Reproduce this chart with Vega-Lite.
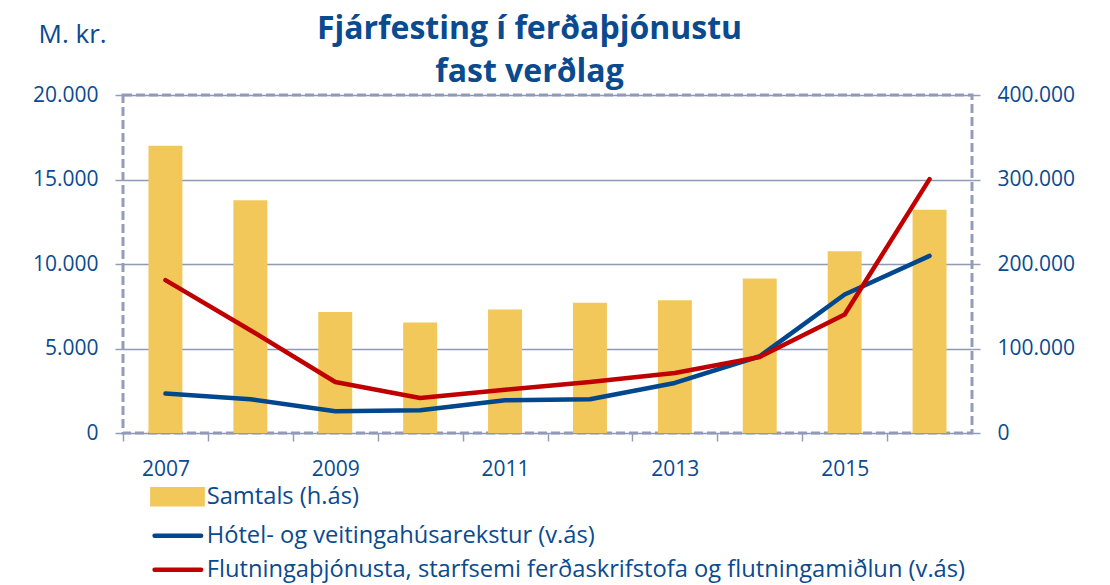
{
  "$schema": "https://vega.github.io/schema/vega-lite/v6.json",
  "width": 849,
  "height": 338,
  "autosize": {"type": "none"},
  "padding": {"left": 123, "top": 95, "right": 138, "bottom": 152},
  "background": "white",
  "title": {
    "text": ["Fjárfesting í ferðaþjónustu", "fast verðlag"],
    "font": "Liberation Sans Narrow, Open Sans, sans-serif",
    "fontSize": 32,
    "fontWeight": "bold",
    "color": "#0A4A8F",
    "anchor": "middle",
    "frame": "group",
    "dx": -18,
    "dy": 80,
    "lineHeight": 43,
    "offset": 12
  },
  "data": {
    "values": [
      {"year": "2007", "series": "Samtals (h.ás)", "value": 340000},
      {"year": "2008", "series": "Samtals (h.ás)", "value": 275300},
      {"year": "2009", "series": "Samtals (h.ás)", "value": 143300},
      {"year": "2010", "series": "Samtals (h.ás)", "value": 130800},
      {"year": "2011", "series": "Samtals (h.ás)", "value": 146200},
      {"year": "2012", "series": "Samtals (h.ás)", "value": 154000},
      {"year": "2013", "series": "Samtals (h.ás)", "value": 157200},
      {"year": "2014", "series": "Samtals (h.ás)", "value": 182900},
      {"year": "2015", "series": "Samtals (h.ás)", "value": 215200},
      {"year": "2016", "series": "Samtals (h.ás)", "value": 264100},
      {"year": "2007", "series": "Hótel- og veitingahúsarekstur (v.ás)", "value": 2333},
      {"year": "2008", "series": "Hótel- og veitingahúsarekstur (v.ás)", "value": 2000},
      {"year": "2009", "series": "Hótel- og veitingahúsarekstur (v.ás)", "value": 1285},
      {"year": "2010", "series": "Hótel- og veitingahúsarekstur (v.ás)", "value": 1344},
      {"year": "2011", "series": "Hótel- og veitingahúsarekstur (v.ás)", "value": 1937},
      {"year": "2012", "series": "Hótel- og veitingahúsarekstur (v.ás)", "value": 1996},
      {"year": "2013", "series": "Hótel- og veitingahúsarekstur (v.ás)", "value": 2961},
      {"year": "2014", "series": "Hótel- og veitingahúsarekstur (v.ás)", "value": 4542},
      {"year": "2015", "series": "Hótel- og veitingahúsarekstur (v.ás)", "value": 8197},
      {"year": "2016", "series": "Hótel- og veitingahúsarekstur (v.ás)", "value": 10483},
      {"year": "2007", "series": "Flutningaþjónusta, starfsemi ferðaskrifstofa og flutningamiðlun (v.ás)", "value": 9043},
      {"year": "2008", "series": "Flutningaþjónusta, starfsemi ferðaskrifstofa og flutningamiðlun (v.ás)", "value": 6082},
      {"year": "2009", "series": "Flutningaþjónusta, starfsemi ferðaskrifstofa og flutningamiðlun (v.ás)", "value": 3020},
      {"year": "2010", "series": "Flutningaþjónusta, starfsemi ferðaskrifstofa og flutningamiðlun (v.ás)", "value": 2073},
      {"year": "2011", "series": "Flutningaþjónusta, starfsemi ferðaskrifstofa og flutningamiðlun (v.ás)", "value": 2560},
      {"year": "2012", "series": "Flutningaþjónusta, starfsemi ferðaskrifstofa og flutningamiðlun (v.ás)", "value": 3020},
      {"year": "2013", "series": "Flutningaþjónusta, starfsemi ferðaskrifstofa og flutningamiðlun (v.ás)", "value": 3553},
      {"year": "2014", "series": "Flutningaþjónusta, starfsemi ferðaskrifstofa og flutningamiðlun (v.ás)", "value": 4501},
      {"year": "2015", "series": "Flutningaþjónusta, starfsemi ferðaskrifstofa og flutningamiðlun (v.ás)", "value": 7012},
      {"year": "2016", "series": "Flutningaþjónusta, starfsemi ferðaskrifstofa og flutningamiðlun (v.ás)", "value": 15025}
    ]
  },
  "encoding": {
    "x": {
      "field": "year",
      "type": "ordinal",
      "scale": {"paddingInner": 0.6, "paddingOuter": 0.3},
      "axis": {
        "title": null,
        "domain": false,
        "tickOffset": -42.45,
        "labelOffset": 42.45,
        "tickSize": 8,
        "tickColor": "#959CB9",
        "tickWidth": 1.5,
        "labelAngle": 0,
        "labelExpr": "(+datum.value) % 2 === 1 ? datum.value : ''",
        "labelFont": "Open Sans",
        "labelFontSize": 21,
        "labelColor": "#0A4A8F",
        "labelPadding": 17,
        "labelBaseline": "top",
        "grid": false
      }
    }
  },
  "layer": [
    {
      "transform": [{"filter": "datum.series === 'Samtals (h.ás)'"}],
      "mark": {"type": "bar"},
      "encoding": {
        "y": {
          "field": "value",
          "type": "quantitative",
          "scale": {"domain": [0, 400000], "nice": false},
          "axis": {
            "orient": "right",
            "title": null,
            "values": [0, 100000, 200000, 300000, 400000],
            "format": ",.0f",
            "grid": false,
            "domain": false,
            "tickSize": 8,
            "tickColor": "#959CB9",
            "tickWidth": 1.5,
            "labelFont": "Open Sans",
            "labelFontSize": 21,
            "labelColor": "#0A4A8F",
            "labelPadding": 17
          }
        },
        "color": {
          "field": "series",
          "type": "nominal",
          "scale": {
            "domain": ["Samtals (h.ás)", "Hótel- og veitingahúsarekstur (v.ás)", "Flutningaþjónusta, starfsemi ferðaskrifstofa og flutningamiðlun (v.ás)"],
            "range": ["#F2C85B", "#00478E", "#C00000"]
          },
          "legend": {
            "title": null,
            "orient": "none",
            "legendX": 25,
            "legendY": 390,
            "direction": "vertical",
            "columns": 1,
            "symbolSize": 225,
            "labelOffset": 35,
            "labelFont": "Open Sans",
            "labelFontSize": 23.7,
            "labelColor": "#0A4A8F",
            "labelLimit": 1000,
            "rowPadding": 9,
            "encode": {
              "symbols": {
                "update": {
                  "shape": {"signal": "datum.value === 'Samtals (h.ás)' ? 'M-1,-1H5.7V1H-1Z' : 'M-0.7,0H5.5'"},
                  "fill": {"signal": "datum.value === 'Samtals (h.ás)' ? '#F2C85B' : 'transparent'"},
                  "stroke": {"signal": "datum.value === 'Samtals (h.ás)' ? 'transparent' : (datum.value === 'Hótel- og veitingahúsarekstur (v.ás)' ? '#00478E' : '#C00000')"},
                  "strokeWidth": {"value": 4.5},
                  "strokeCap": {"value": "round"},
                  "opacity": {"value": 1}
                }
              }
            }
          }
        }
      }
    },
    {
      "transform": [{"filter": "datum.series !== 'Samtals (h.ás)'"}],
      "mark": {"type": "line", "strokeWidth": 4.5, "strokeCap": "round", "strokeJoin": "round"},
      "encoding": {
        "y": {
          "field": "value",
          "type": "quantitative",
          "scale": {"domain": [0, 20000], "nice": false},
          "axis": {
            "orient": "left",
            "title": "M. kr.",
            "titleAngle": 0,
            "titleAlign": "left",
            "titleBaseline": "alphabetic",
            "titleX": -85,
            "titleY": -53,
            "titleFont": "Open Sans",
            "titleFontSize": 26,
            "titleFontWeight": "normal",
            "titleColor": "#0A4A8F",
            "values": [0, 5000, 10000, 15000, 20000],
            "format": ",.0f",
            "grid": true,
            "gridColor": "#8E99B6",
            "gridWidth": 1.5,
            "domain": false,
            "tickSize": 8,
            "tickColor": "#959CB9",
            "tickWidth": 1.5,
            "labelFont": "Open Sans",
            "labelFontSize": 21,
            "labelColor": "#0A4A8F",
            "labelPadding": 17
          }
        },
        "color": {"field": "series", "type": "nominal", "legend": null},
        "detail": {"field": "series"}
      }
    }
  ],
  "resolve": {"scale": {"y": "independent"}},
  "config": {
    "locale": {"number": {"decimal": ",", "thousands": ".", "grouping": [3], "currency": ["", ""]}},
    "view": {"stroke": "#959CB9", "strokeWidth": 3, "strokeDash": [9, 4]}
  }
}
